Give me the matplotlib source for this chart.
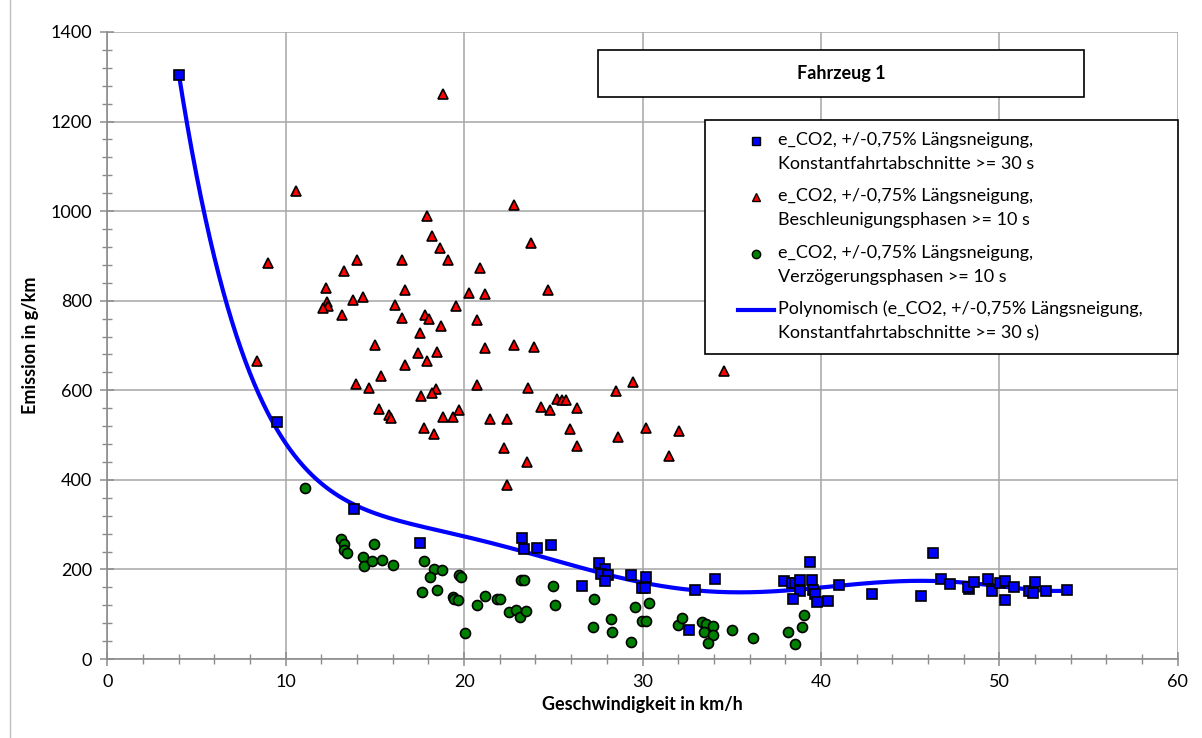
import numpy as np
import matplotlib
matplotlib.use("Agg")
import matplotlib.pyplot as plt
from matplotlib.patches import Rectangle
from matplotlib.lines import Line2D

plt.rcParams['font.family'] = ['Lato', 'DejaVu Sans']

# ---------------- data ----------------
blue_x = [4.0, 9.5, 13.85, 17.55, 23.27, 23.34, 24.07, 24.85, 26.63, 27.58, 27.88, 27.66, 28.05, 27.88,
          29.37, 30.18, 29.97, 30.16, 32.59, 32.93, 34.08, 37.95, 38.36, 38.57, 38.85, 38.81, 38.45,
          39.37, 39.48, 39.56, 39.65, 39.76, 40.42, 41.01, 42.85, 45.61, 46.30, 46.73, 47.24, 48.30,
          48.26, 48.58, 49.38, 49.61, 50.06, 50.34, 50.32, 50.82, 51.66, 51.91, 51.98, 52.60, 53.79]
blue_y = [1305, 530, 336, 260, 271, 245, 248, 255, 162, 214, 202, 190, 187, 175,
          188, 183, 158, 158, 64, 155, 178, 175, 169, 169, 176, 152, 135,
          217, 177, 153, 146, 127, 129, 165, 145, 141, 237, 179, 168, 156,
          160, 173, 178, 152, 169, 175, 132, 160, 152, 147, 171, 151, 154]

red_x = [18.84, 10.56, 17.9, 18.22, 18.65, 19.08, 8.99, 13.98, 16.54, 13.28, 20.89, 12.26, 16.69,
         20.27, 21.19, 13.77, 14.33, 12.3, 12.39, 12.09, 16.11, 19.55, 13.16, 16.52, 17.81, 18.03,
         18.72, 20.74, 17.54, 15.02, 21.19, 17.43, 18.46, 8.39, 17.9, 16.69, 15.33, 13.92, 14.69,
         20.71, 18.44, 18.18, 17.58, 19.71, 15.23, 18.82, 19.36, 15.79, 15.89, 21.43, 17.75, 18.33,
         34.59, 29.47, 28.53, 23.56, 24.31, 24.83, 25.21, 25.47, 25.71, 26.35, 22.4, 25.95, 30.21,
         32.03, 28.64, 22.22, 26.33, 31.5, 23.51, 22.42, 22.8, 23.92, 22.8, 23.73, 24.7]
red_y = [1261, 1045, 989, 944, 917, 892, 885, 892, 892, 866, 873, 829, 823,
         818, 815, 801, 808, 797, 789, 784, 791, 789, 767, 761, 768, 760,
         743, 757, 729, 701, 694, 684, 686, 665, 665, 657, 633, 614, 606,
         611, 602, 595, 588, 557, 558, 540, 541, 545, 539, 536, 515, 502,
         643, 619, 598, 605, 562, 556, 580, 578, 578, 561, 535, 513, 515,
         510, 496, 472, 475, 454, 440, 388, 702, 697, 1013, 928, 825]

green_x = [11.06, 13.08, 13.27, 13.25, 13.44, 14.93, 14.35, 14.41, 14.82, 15.4, 16.0, 17.74, 18.33,
           18.76, 18.07, 19.7, 19.8, 17.66, 18.48, 19.38, 19.43, 19.66, 20.74, 21.19, 21.83, 22.01,
           20.05, 22.52, 22.89, 23.13, 23.49, 23.21, 23.37, 24.98, 25.11, 27.26, 27.21, 28.25, 28.27,
           29.37, 29.56, 29.97, 30.21, 30.38, 31.99, 32.2, 33.33, 33.54, 33.95, 33.45, 33.97, 33.67,
           35.0, 36.19, 38.16, 38.57, 38.92, 39.05]
green_y = [381, 269, 257, 243, 237, 257, 228, 208, 218, 222, 209, 218, 201,
           199, 183, 188, 184, 150, 154, 138, 135, 131, 121, 141, 133, 135,
           57, 105, 110, 94, 108, 176, 176, 164, 121, 135, 71, 90, 60,
           39, 116, 85, 84, 126, 77, 92, 82, 78, 74, 60, 54, 36,
           64, 47, 60, 33, 71, 98]

lab_blue = "e_CO2, +/-0,75% Längsneigung,\nKonstantfahrtabschnitte >= 30 s"
lab_red = "e_CO2, +/-0,75% Längsneigung,\nBeschleunigungsphasen >= 10 s"
lab_green = "e_CO2, +/-0,75% Längsneigung,\nVerzögerungsphasen >= 10 s"
lab_poly = "Polynomisch (e_CO2, +/-0,75% Längsneigung,\nKonstantfahrtabschnitte >= 30 s)"
title_text = "Fahrzeug 1"
x_label = "Geschwindigkeit in km/h"
y_label = "Emission in g/km"
poly_order = 6

# ---------------- figure ----------------
W, H = 1202, 738
fig = plt.figure(figsize=(W / 100, H / 100), dpi=100)
ax = fig.add_axes([107.3 / W, 1 - 659 / H, (1177.7 - 107.3) / W, (659 - 32) / H])

grid_c = '#A6A6A6'
axis_c = '#8C8C8C'

ax.set_xlim(0, 60)
ax.set_ylim(0, 1400)
ax.set_xticks(np.arange(0, 61, 10))
ax.set_yticks(np.arange(0, 1401, 200))
ax.set_xticks(np.arange(0, 61, 2), minor=True)
ax.set_yticks(np.arange(0, 1401, 40), minor=True)
ax.grid(True, which='major', color=grid_c, linewidth=1.1, zorder=0)
ax.set_axisbelow(True)
for s in ['top', 'right']:
    ax.spines[s].set_visible(False)
for s in ['left', 'bottom']:
    ax.spines[s].set_color(axis_c)
    ax.spines[s].set_linewidth(1.2)
ax.tick_params(which='major', direction='inout', length=10, width=1.1, color=axis_c,
               labelsize=13, labelcolor='black', pad=6)
ax.tick_params(which='minor', direction='inout', length=7, width=1.0, color=axis_c)

ax.set_xlabel(x_label, fontsize=13, fontweight='bold', labelpad=4)
ax.set_ylabel(y_label, fontsize=13, fontweight='bold', labelpad=8)

# trendline (polynomial fit of the blue series)
p = np.polynomial.Polynomial.fit(blue_x, blue_y, poly_order)
xs = np.linspace(min(blue_x), max(blue_x), 400)
ax.plot(xs, p(xs), color='#0000FF', linewidth=3, zorder=2)

ms = 7.2
ax.plot(red_x, red_y, linestyle='none', marker='^', markersize=ms + 0.6, markerfacecolor='#FF0000',
        markeredgecolor='black', markeredgewidth=1.2, zorder=3)
ax.plot(green_x, green_y, linestyle='none', marker='o', markersize=ms, markerfacecolor='#008000',
        markeredgecolor='black', markeredgewidth=1.2, zorder=3)
ax.plot(blue_x, blue_y, linestyle='none', marker='s', markersize=ms, markerfacecolor='#0000FF',
        markeredgecolor='black', markeredgewidth=1.2, zorder=4)

# legend frame (drawn separately to control padding)
ax.add_patch(Rectangle((705 / W, 1 - 354 / H), 473 / W, 234 / H, transform=fig.transFigure,
                       facecolor='white', edgecolor='black', linewidth=1.2, zorder=9, clip_on=False))

handles = [
    Line2D([], [], linestyle='none', marker='s', markersize=6, markerfacecolor='#0000FF',
           markeredgecolor='black', markeredgewidth=1.0),
    Line2D([], [], linestyle='none', marker='^', markersize=6, markerfacecolor='#FF0000',
           markeredgecolor='black', markeredgewidth=1.0),
    Line2D([], [], linestyle='none', marker='o', markersize=6, markerfacecolor='#008000',
           markeredgecolor='black', markeredgewidth=1.0),
    Line2D([], [], color='#0000FF', linewidth=3),
]
leg = ax.legend(handles, [lab_blue, lab_red, lab_green, lab_poly],
                loc='upper left', bbox_to_anchor=(738 / W, 1 - 132 / H),
                bbox_transform=fig.transFigure, fontsize=13,
                frameon=False, borderpad=0, labelspacing=0.9, handlelength=2.0,
                handletextpad=0.2, borderaxespad=0)
for t in leg.get_texts():
    t.set_linespacing(1.62)
# align each handle with the first text line (as in the original)
for h in leg.legend_handles:
    yd = np.asarray(h.get_ydata(), dtype=float)
    h.set_ydata(yd + 8.0)
leg.set_zorder(10)

# title box
ax.add_patch(Rectangle((598 / W, 1 - 97 / H), 486 / W, 47 / H, transform=fig.transFigure,
                       facecolor='white', edgecolor='black', linewidth=1.2, zorder=9, clip_on=False))
ax.text(841 / W, 1 - 73.5 / H, title_text, transform=fig.transFigure, ha='center', va='center',
        fontsize=13, fontweight='bold', zorder=11)

# outer chart border
fig.add_artist(Line2D([10 / W, 10 / W], [0, 1], transform=fig.transFigure, color='#BFBFBF', linewidth=1))

fig.savefig('out.png', dpi=100)
